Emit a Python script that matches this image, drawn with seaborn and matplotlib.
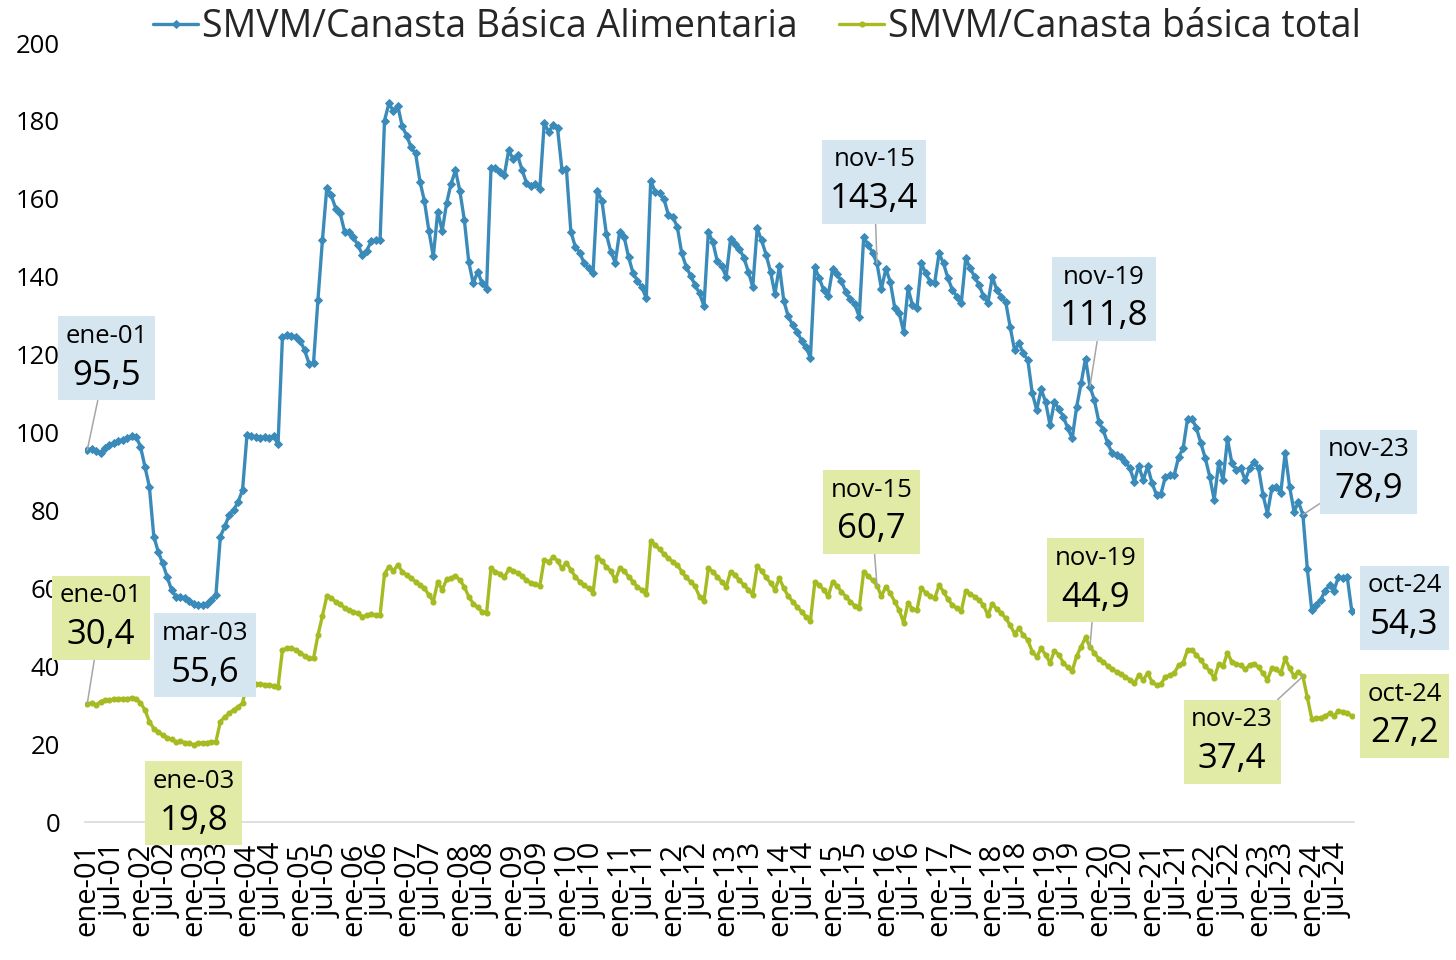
import matplotlib
matplotlib.use("Agg")
import matplotlib.pyplot as plt
import seaborn as sns
import pandas as pd
from matplotlib.offsetbox import AnnotationBbox, TextArea, VPacker

# months ene-01 .. oct-24
years = list(range(2001, 2025))
month_names = ['ene', 'feb', 'mar', 'abr', 'may', 'jun', 'jul', 'ago', 'sep', 'oct', 'nov', 'dic']

# SMVM / Canasta Básica Alimentaria
cba_ratio = [
    95.5, 95.8, 95.3, 94.7, 96.0, 96.8, 97.2, 97.8, 98.2, 98.5, 99.0, 98.9,
    96.4, 91.2, 86.1, 73.3, 69.4, 66.4, 63.0, 59.6, 57.9, 57.9, 57.5, 56.8,
    56.1, 55.8, 55.6, 56.1, 57.0, 58.3, 73.3, 75.9, 78.8, 80.1, 82.2, 85.2,
    99.4, 99.1, 98.9, 98.7, 98.9, 98.7, 99.0, 97.0, 124.6, 125.0, 124.9, 124.6,
    123.6, 121.1, 117.7, 117.9, 134.1, 149.3, 162.9, 160.9, 157.5, 156.3, 151.6, 151.6,
    150.1, 148.1, 145.7, 146.7, 149.1, 149.4, 149.4, 180.1, 184.5, 182.5, 183.8, 178.6,
    176.2, 173.2, 171.7, 164.4, 159.4, 151.8, 145.2, 156.7, 151.8, 158.9, 163.9, 167.3,
    161.9, 154.5, 143.7, 138.3, 141.3, 138.3, 136.8, 167.8, 167.8, 167.0, 166.1, 172.5,
    170.1, 171.2, 167.4, 164.1, 163.3, 163.8, 162.4, 179.5, 177.2, 178.9, 178.1, 167.4,
    167.6, 151.6, 147.7, 146.2, 143.4, 142.2, 141.0, 162.1, 159.5, 151.0, 146.4, 143.6,
    151.6, 150.3, 145.1, 141.0, 139.0, 137.3, 134.5, 164.6, 161.8, 161.4, 159.9, 155.8,
    155.4, 152.7, 146.0, 142.6, 140.2, 137.9, 135.7, 132.5, 151.5, 148.9, 144.0, 142.7,
    140.0, 149.7, 148.4, 147.1, 144.9, 141.3, 137.4, 152.4, 149.3, 145.7, 141.3, 135.6,
    142.7, 133.8, 129.8, 127.6, 125.9, 123.6, 121.9, 119.2, 142.4, 139.6, 136.5, 135.1,
    142.0, 140.6, 138.8, 136.0, 134.2, 132.9, 129.7, 150.2, 148.2, 146.2, 143.4, 136.9,
    142.0, 138.7, 132.0, 130.7, 125.9, 137.0, 132.7, 131.9, 143.4, 140.9, 138.7, 138.5,
    146.0, 143.4, 139.6, 136.6, 134.9, 133.2, 144.7, 142.2, 140.0, 137.9, 135.0, 133.2,
    140.0, 136.6, 134.9, 133.6, 127.2, 121.2, 122.9, 120.3, 118.6, 110.1, 105.8, 111.1,
    107.9, 101.9, 107.9, 106.0, 104.1, 101.1, 98.5, 106.6, 112.6, 119.0, 111.8, 108.3,
    102.8, 100.6, 97.2, 94.7, 94.2, 93.8, 92.5, 90.8, 87.4, 91.4, 87.8, 91.3,
    87.0, 84.0, 84.2, 88.7, 89.1, 89.1, 93.8, 95.9, 103.6, 103.6, 101.1, 97.2,
    93.4, 88.7, 82.7, 92.1, 87.8, 98.3, 92.1, 90.4, 90.8, 87.8, 90.8, 92.5,
    90.8, 84.0, 79.2, 85.7, 86.1, 84.4, 94.8, 86.1, 79.7, 82.2, 78.9, 64.9,
    54.4, 55.7, 57.0, 59.4, 60.8, 59.4, 63.0, 62.6, 62.8, 54.3,
]

# SMVM / Canasta básica total
cbt_ratio = [
    30.4, 30.5, 30.0, 30.9, 31.3, 31.4, 31.5, 31.7, 31.7, 31.7, 31.8, 31.7,
    30.6, 28.8, 25.8, 24.0, 23.2, 22.3, 21.7, 21.2, 20.6, 20.7, 20.4, 20.3,
    19.8, 20.3, 20.3, 20.4, 20.6, 20.6, 25.8, 27.0, 27.9, 28.8, 29.6, 30.5,
    35.8, 35.6, 35.5, 35.4, 35.3, 35.2, 35.0, 34.7, 44.2, 44.6, 44.6, 44.2,
    43.5, 42.6, 42.0, 42.0, 48.0, 52.9, 58.0, 57.4, 56.6, 56.0, 54.9, 54.4,
    54.0, 53.6, 52.7, 53.1, 53.4, 53.1, 53.1, 63.7, 65.6, 64.5, 66.0, 64.3,
    63.4, 62.6, 61.7, 60.8, 60.0, 58.3, 56.6, 61.7, 59.6, 62.3, 62.6, 63.2,
    62.1, 60.4, 57.8, 56.1, 55.1, 54.0, 53.6, 65.1, 64.3, 63.7, 62.8, 64.9,
    64.5, 64.0, 63.2, 62.1, 61.4, 61.1, 60.6, 67.4, 66.8, 68.0, 67.1, 65.1,
    66.6, 64.7, 63.0, 61.7, 60.8, 60.0, 58.9, 68.0, 67.1, 65.5, 64.5, 62.1,
    65.1, 64.5, 63.0, 61.7, 60.4, 59.6, 58.5, 72.2, 71.1, 70.0, 68.8, 67.7,
    66.8, 66.0, 64.3, 62.8, 61.7, 60.5, 57.9, 56.8, 65.1, 64.3, 63.0, 61.7,
    60.4, 64.3, 63.4, 62.1, 60.8, 59.7, 58.3, 65.7, 64.5, 62.8, 61.4, 59.7,
    62.6, 60.0, 58.0, 56.6, 55.3, 54.0, 52.7, 51.7, 61.7, 60.8, 59.6, 58.0,
    61.7, 60.6, 59.1, 57.9, 56.6, 55.5, 54.9, 64.3, 63.2, 62.1, 60.7, 58.0,
    60.4, 58.7, 56.6, 54.4, 51.2, 56.3, 54.6, 54.4, 60.0, 58.9, 58.0, 57.4,
    60.8, 59.1, 57.2, 55.7, 54.9, 54.2, 59.4, 58.5, 57.9, 57.0, 55.7, 53.1,
    56.1, 54.6, 53.7, 52.3, 50.6, 48.4, 49.7, 48.0, 46.7, 43.7, 42.4, 44.6,
    42.9, 40.9, 44.0, 42.9, 40.9, 39.7, 38.8, 42.6, 45.0, 47.4, 44.9, 43.5,
    41.8, 41.2, 40.1, 39.2, 38.6, 38.0, 37.3, 36.5, 35.6, 37.7, 36.5, 38.2,
    36.0, 35.2, 35.4, 37.3, 37.7, 38.2, 40.3, 40.9, 44.2, 44.2, 42.9, 41.5,
    40.0, 38.8, 36.9, 40.5, 40.0, 43.5, 41.0, 40.5, 40.3, 39.2, 40.3, 40.7,
    39.7, 38.2, 36.5, 39.5, 39.2, 38.2, 42.0, 39.5, 37.5, 38.6, 37.4, 32.0,
    26.5, 26.6, 26.8, 27.2, 27.9, 27.2, 28.6, 28.3, 28.0, 27.2,
]

periods = [f"{mn}-{str(y)[2:]}" for y in years for mn in month_names][:len(cba_ratio)]

# labelled months and where their boxes sit (offset in points from the point)
cba_labels = [('ene-01', (14, 66), True), ('mar-03', (2, -36), False),
              ('nov-15', (-2, 59), True), ('nov-19', (10, 63), True),
              ('nov-23', (47, 31), True), ('oct-24', (38, 2), False)]
cbt_labels = [('ene-01', (10, 62), True), ('ene-03', (0, -42), False),
              ('nov-15', (-4, 53), True), ('nov-19', (4, 48), True),
              ('nov-23', (-51, -47), True), ('oct-24', (38, 0), False)]

BLUE = '#3B8BBA'
GREEN = '#A6BB22'
BLUE_BOX = '#D6E6F0'
GREEN_BOX = '#E2EBA5'

df = pd.DataFrame({'idx': range(len(periods)), 'periodo': periods,
                   'cba': cba_ratio, 'cbt': cbt_ratio})

sns.set_theme(style='white')
plt.rcParams['font.family'] = ['Open Sans', 'DejaVu Sans']

fig = plt.figure(figsize=(14.56, 9.6), dpi=100)
ax = fig.add_axes([0.0584, 0.1437, 0.8715, 0.8115])

sns.lineplot(data=df, x='idx', y='cba', ax=ax, color=BLUE, linewidth=2.4,
             marker='D', markersize=3.6, markeredgewidth=0.7, markeredgecolor=BLUE,
             label='SMVM/Canasta Básica Alimentaria')
sns.lineplot(data=df, x='idx', y='cbt', ax=ax, color=GREEN, linewidth=2.4,
             marker='o', markersize=4.4, markeredgewidth=0, label='SMVM/Canasta básica total')

ax.set_xlim(-0.5, len(periods) - 0.5)
ax.set_ylim(0, 200)
ax.set_yticks(range(0, 201, 20))
ax.set_xticks(df['idx'][::6])
ax.set_xticklabels(df['periodo'][::6], rotation=90, fontsize=21)
ax.tick_params(axis='x', length=0, pad=15, colors='black')
ax.tick_params(axis='y', length=0, pad=18, labelsize=18.5, colors='black')
ax.set_xlabel('')
ax.set_ylabel('')
for side in ['left', 'top', 'right']:
    ax.spines[side].set_visible(False)
ax.spines['bottom'].set_color('#D9D9D9')
ax.spines['bottom'].set_linewidth(1.2)
ax.grid(False)


def add_label(series, period, offset, box_color, leader):
    i = periods.index(period)
    v = series[i]
    content = VPacker(children=[TextArea(period, textprops=dict(fontsize=18.5, color='black')),
                                TextArea(f"{v:.1f}".replace('.', ','),
                                         textprops=dict(fontsize=25, color='black'))],
                      align='center', pad=0, sep=7)
    arrow = dict(arrowstyle='-', color='#A6A6A6', lw=1.1, shrinkA=0, shrinkB=0) if leader else None
    ab = AnnotationBbox(content, (i, v), xybox=offset, boxcoords='offset points',
                        frameon=True, pad=0.55, fontsize=10,
                        bboxprops=dict(facecolor=box_color, edgecolor='none'),
                        arrowprops=arrow, zorder=6)
    ax.add_artist(ab)


for period, offset, leader in cba_labels:
    add_label(cba_ratio, period, offset, BLUE_BOX, leader)
for period, offset, leader in cbt_labels:
    add_label(cbt_ratio, period, offset, GREEN_BOX, leader)

handles, labels = ax.get_legend_handles_labels()
ax.get_legend().remove()
fig.legend(handles, labels, loc='center', bbox_to_anchor=(0.52, 0.972), ncol=2,
           frameon=False, fontsize=27, handlelength=1.2, handletextpad=0.1,
           columnspacing=1.1, borderaxespad=0)

fig.savefig('out.png', dpi=100)
